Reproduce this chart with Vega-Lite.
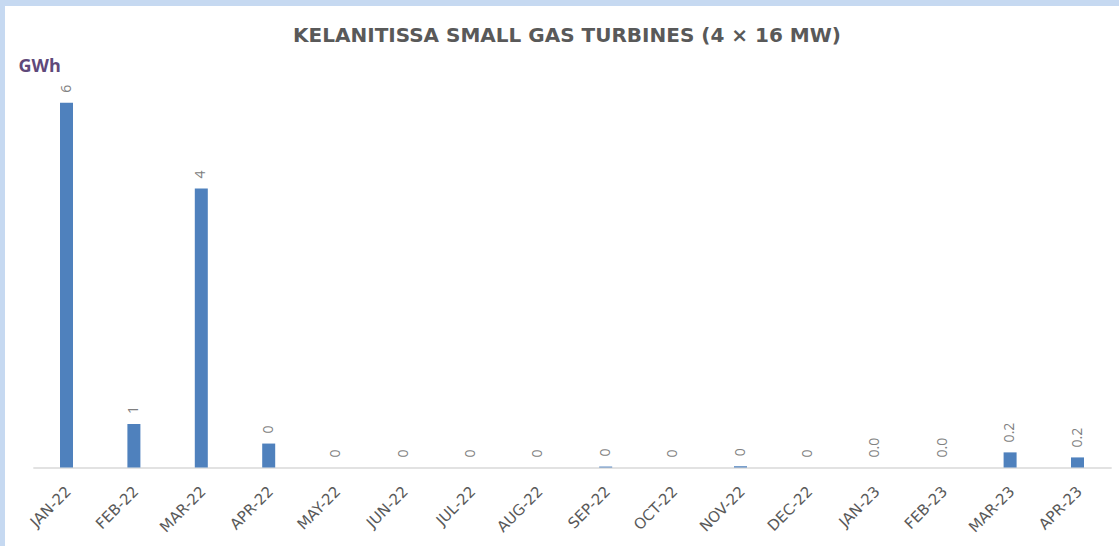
{
  "$schema": "https://vega.github.io/schema/vega-lite/v6.json",
  "width": 1114,
  "height": 540,
  "autosize": {"type": "none"},
  "padding": {"left": 5, "top": 6, "right": 0, "bottom": 0},
  "background": "#C6D9F1",
  "config": {"view": {"fill": "white", "stroke": null}, "font": "Open Sans"},
  "title": {
    "text": "KELANITISSA SMALL GAS TURBINES (4 × 16 MW)",
    "fontSize": 20,
    "fontWeight": "bold",
    "color": "#595959",
    "anchor": "middle",
    "offset": -40,
    "dx": 5,
    "font": "DejaVu Sans"
  },
  "data": {
    "values": [
      {"month": "JAN-22", "value": 5.79, "label": "6"},
      {"month": "FEB-22", "value": 0.69, "label": "1"},
      {"month": "MAR-22", "value": 4.43, "label": "4"},
      {"month": "APR-22", "value": 0.38, "label": "0"},
      {"month": "MAY-22", "value": 0, "label": "0"},
      {"month": "JUN-22", "value": 0, "label": "0"},
      {"month": "JUL-22", "value": 0, "label": "0"},
      {"month": "AUG-22", "value": 0, "label": "0"},
      {"month": "SEP-22", "value": 0.015, "label": "0"},
      {"month": "OCT-22", "value": 0, "label": "0"},
      {"month": "NOV-22", "value": 0.02, "label": "0"},
      {"month": "DEC-22", "value": 0, "label": "0"},
      {"month": "JAN-23", "value": 0, "label": "0.0"},
      {"month": "FEB-23", "value": 0, "label": "0.0"},
      {"month": "MAR-23", "value": 0.24, "label": "0.2"},
      {"month": "APR-23", "value": 0.16, "label": "0.2"}
    ]
  },
  "encoding": {
    "x": {
      "field": "month",
      "type": "ordinal",
      "sort": null,
      "scale": {"range": [27.8, 1106.2], "paddingInner": 0, "paddingOuter": 0},
      "axis": {
        "title": null,
        "ticks": false,
        "labelAngle": -45,
        "offset": -78.5,
        "labelOffset": -3,
        "domainColor": "#D9D9D9",
        "domainWidth": 1.5,
        "labelColor": "#595959",
        "labelFontSize": 15,
        "labelPadding": 16,
        "labelFont": "DejaVu Sans"
      }
    },
    "y": {
      "field": "value",
      "type": "quantitative",
      "scale": {"domain": [-1.246, 7.325], "nice": false},
      "axis": {
        "title": "GWh",
        "labels": false,
        "ticks": false,
        "domain": false,
        "grid": false,
        "titleAngle": 0,
        "titleX": 13,
        "titleY": 65,
        "titleAlign": "left",
        "titleBaseline": "alphabetic",
        "titleColor": "#5F497A",
        "titleFontSize": 18,
        "titleFontWeight": "bold",
        "titleFont": "Open Sans"
      }
    }
  },
  "layer": [
    {"mark": {"type": "bar", "color": "#4F81BD", "size": 13}},
    {
      "mark": {"type": "text", "angle": 270, "align": "left", "baseline": "middle", "dx": 10, "fontSize": 14, "color": "#808080"},
      "encoding": {"text": {"field": "label"}}
    }
  ]
}
